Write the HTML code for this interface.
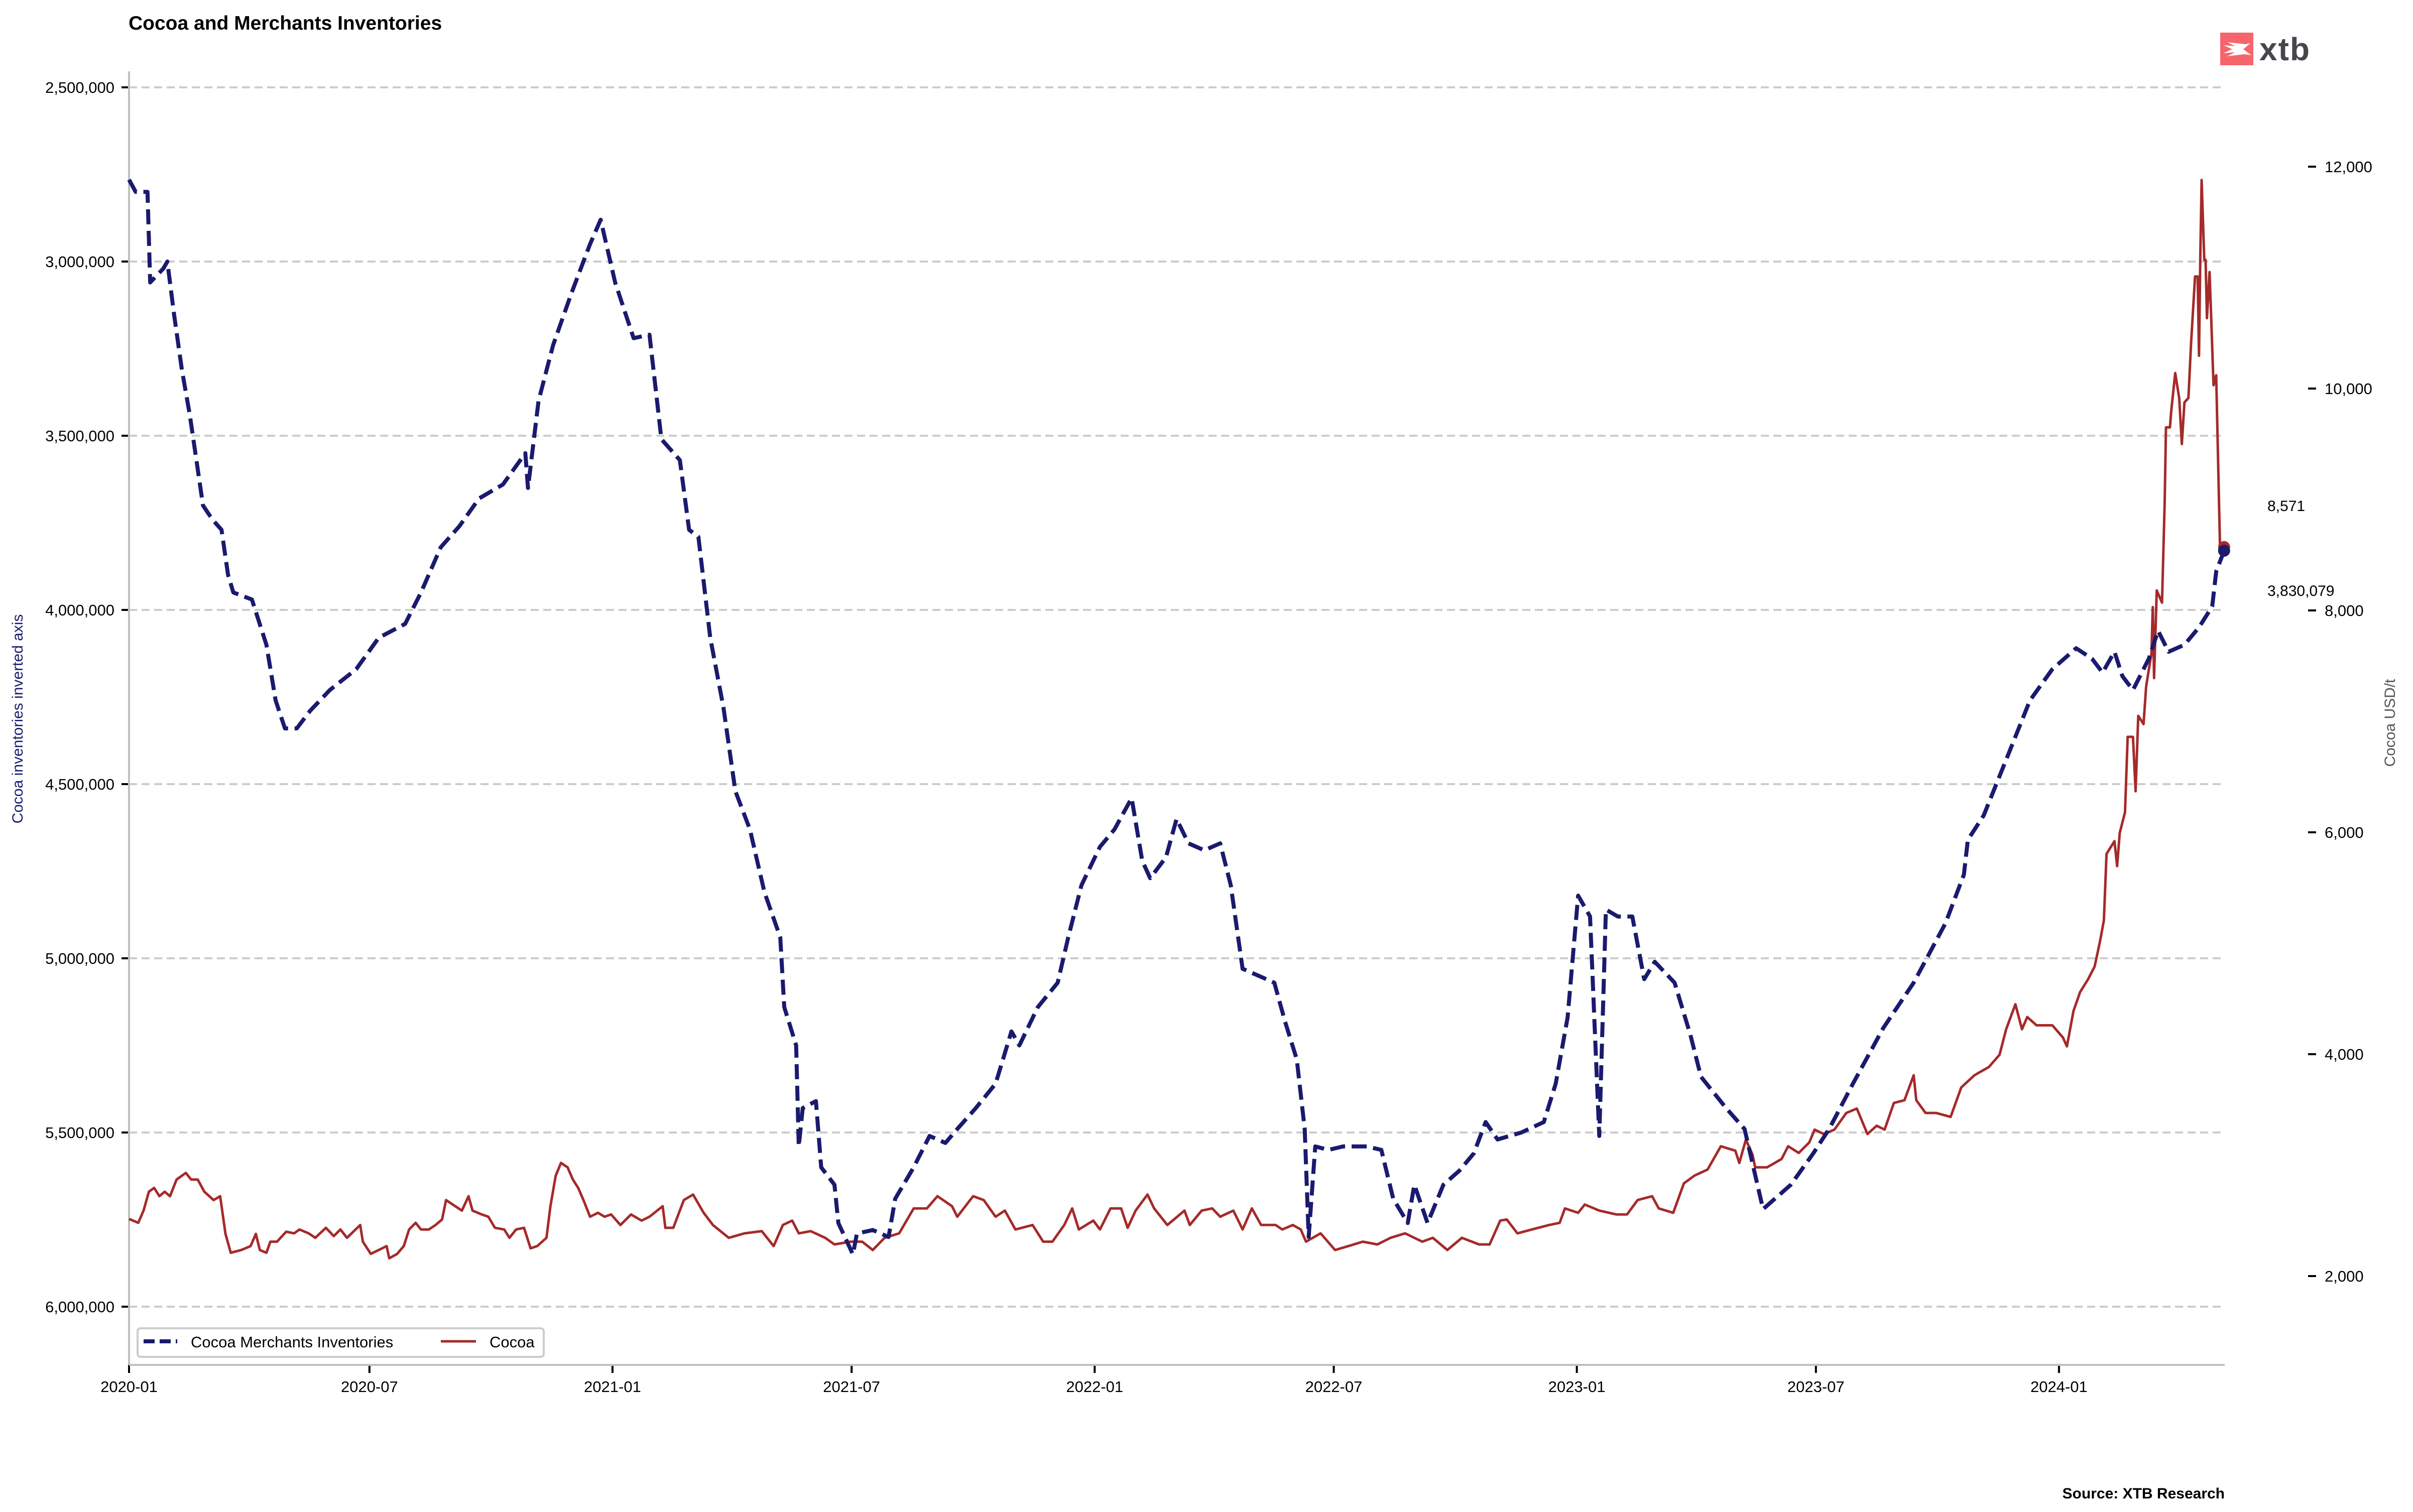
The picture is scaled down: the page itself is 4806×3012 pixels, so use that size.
<!DOCTYPE html>
<html><head><meta charset="utf-8"><style>
html,body{margin:0;padding:0;background:#fff}
svg{display:block;font-family:"Liberation Sans",Arial,sans-serif}
</style></head><body>
<svg id="chart" width="4806" height="3012" viewBox="0 0 4806 3012" xmlns="http://www.w3.org/2000/svg">
<text x="256" y="59" font-size="39" font-weight="bold" fill="#000">Cocoa and Merchants Inventories</text>
<g>
<rect x="4422" y="65" width="66" height="65" fill="#f5656b"/>
<path d="M4428 90 L4452 92 L4436 84 L4472 88 L4482 86 L4468 98 L4484 110 L4470 108 L4436 112 L4452 104 L4428 106 L4446 98 Z" fill="#fff"/>
<text x="4500" y="120" font-size="64" font-weight="bold" fill="#46474c" letter-spacing="2">xtb</text>
</g>
<g id="grid"></g>
<g id="axes"></g>
<g id="series"></g>
<text x="45" y="1432" font-size="30" fill="#1a1a6e" text-anchor="middle" transform="rotate(-90 45 1432)">Cocoa inventories inverted axis</text>
<text x="4770" y="1440" font-size="30" fill="#555" text-anchor="middle" transform="rotate(-90 4770 1440)">Cocoa USD/t</text>
<text x="4516" y="1018" font-size="30" fill="#000">8,571</text>
<text x="4516" y="1187" font-size="30" fill="#000">3,830,079</text>
<g>
<rect x="274" y="2646" width="809" height="57" rx="6" fill="#fff" stroke="#ccc" stroke-width="4"/>
<line x1="286" y1="2672" x2="353" y2="2672" stroke="#1a1a6e" stroke-width="8" stroke-dasharray="22,10"/>
<text x="380" y="2684" font-size="31" fill="#000">Cocoa Merchants Inventories</text>
<line x1="878" y1="2672" x2="948" y2="2672" stroke="#a52a2a" stroke-width="5"/>
<text x="975" y="2684" font-size="31" fill="#000">Cocoa</text>
</g>
<text x="4431" y="2985" font-size="30" font-weight="bold" fill="#000" text-anchor="end">Source: XTB Research</text>
</svg>
<script>
const invDays = [0,5,14,16,26,29,34,40,46,51,56,63,70,75,79,93,104,111,118,127,137,152,172,189,209,221,236,250,265,283,300,302,310,321,335,349,357,368,382,394,403,417,424,431,440,450,459,470,481,493,496,505,507,510,520,524,534,537,548,551,563,575,580,594,606,618,627,641,656,668,674,688,703,711,721,735,746,759,767,773,785,793,802,814,826,834,843,855,867,875,884,890,893,898,908,919,937,948,957,968,973,983,995,1007,1018,1027,1036,1054,1071,1080,1089,1097,1106,1113,1118,1127,1138,1147,1155,1170,1182,1190,1209,1223,1237,1258,1275,1287,1305,1328,1351,1375,1389,1392,1404,1421,1439,1456,1474,1486,1494,1503,1509,1517,1529,1536,1544,1556,1567,1577,1580,1586];
const invValues = [2765000,2800000,2800000,3060000,3020000,3000000,3150000,3310000,3440000,3570000,3700000,3740000,3770000,3900000,3950000,3970000,4100000,4260000,4340000,4340000,4290000,4230000,4170000,4080000,4040000,3950000,3820000,3760000,3680000,3640000,3550000,3650000,3400000,3240000,3090000,2950000,2880000,3060000,3220000,3210000,3510000,3570000,3770000,3790000,4080000,4280000,4520000,4630000,4810000,4940000,5140000,5250000,5540000,5430000,5410000,5600000,5650000,5760000,5850000,5790000,5780000,5800000,5690000,5600000,5510000,5530000,5490000,5430000,5360000,5210000,5250000,5140000,5070000,4940000,4790000,4680000,4630000,4540000,4720000,4770000,4710000,4600000,4670000,4690000,4670000,4790000,5030000,5050000,5070000,5180000,5290000,5490000,5800000,5540000,5550000,5540000,5540000,5550000,5690000,5760000,5650000,5760000,5650000,5610000,5560000,5470000,5520000,5500000,5470000,5360000,5170000,4820000,4880000,5510000,4860000,4880000,4880000,5060000,5010000,5070000,5220000,5340000,5430000,5490000,5720000,5650000,5560000,5490000,5360000,5200000,5070000,4900000,4760000,4660000,4590000,4430000,4260000,4170000,4110000,4140000,4180000,4120000,4190000,4230000,4140000,4060000,4120000,4100000,4050000,3990000,3890000,3830079];
const cocoaDays = [0,7,11,15,19,23,27,31,36,43,47,52,57,64,69,73,77,85,92,96,99,104,107,112,119,125,129,136,141,149,155,160,165,175,177,183,189,195,197,203,208,212,217,221,227,232,237,240,245,252,257,260,267,272,277,284,288,293,299,304,309,316,319,323,327,332,336,340,344,349,355,360,365,372,380,388,394,404,406,412,420,427,435,442,454,466,479,488,495,502,507,516,527,534,546,555,563,572,583,594,604,612,623,627,639,647,656,663,671,684,692,699,708,714,719,730,735,743,751,756,762,771,776,786,799,803,812,820,826,836,843,850,857,868,873,881,887,891,902,913,923,934,945,955,966,979,987,998,1009,1022,1030,1038,1043,1051,1062,1075,1083,1087,1097,1102,1113,1126,1134,1142,1153,1158,1169,1177,1185,1195,1205,1216,1219,1224,1229,1231,1240,1251,1256,1264,1272,1276,1283,1291,1300,1308,1316,1323,1329,1336,1344,1351,1353,1360,1368,1379,1387,1397,1408,1416,1421,1428,1433,1437,1444,1456,1464,1467,1472,1477,1483,1488,1492,1495,1497,1503,1505,1507,1511,1513,1517,1519,1521,1525,1527,1531,1532,1533,1535,1539,1541,1542,1545,1546,1549,1552,1554,1556,1559,1561,1564,1566,1567,1568,1569,1571,1572,1573,1575,1576,1578,1580,1583,1586];
const cocoaValues = [2515,2480,2590,2760,2795,2720,2760,2720,2870,2930,2870,2870,2760,2685,2720,2380,2210,2235,2270,2380,2235,2210,2310,2310,2400,2385,2420,2385,2345,2435,2360,2420,2345,2460,2310,2200,2235,2270,2160,2200,2270,2420,2480,2420,2420,2460,2510,2685,2645,2590,2720,2590,2555,2535,2435,2420,2345,2420,2435,2250,2270,2345,2630,2905,3020,2980,2870,2795,2685,2535,2570,2535,2555,2460,2555,2500,2535,2630,2435,2435,2685,2735,2570,2460,2345,2385,2405,2270,2460,2500,2385,2405,2345,2285,2310,2310,2235,2345,2385,2610,2610,2720,2630,2535,2720,2685,2535,2590,2420,2460,2310,2310,2460,2610,2420,2500,2420,2610,2610,2435,2590,2735,2610,2460,2590,2460,2590,2610,2535,2590,2420,2610,2460,2460,2420,2460,2420,2310,2385,2235,2270,2310,2285,2345,2385,2310,2345,2235,2345,2285,2285,2500,2510,2385,2420,2460,2480,2610,2570,2645,2590,2555,2555,2685,2720,2610,2570,2835,2905,2960,3170,3130,3020,3230,3095,2980,2980,3055,3170,3110,3205,3320,3280,3320,3470,3510,3280,3355,3320,3560,3585,3810,3585,3470,3470,3435,3700,3810,3885,3995,4225,4450,4225,4335,4260,4260,4150,4070,4390,4560,4675,4790,5015,5205,5805,5920,5695,5995,6180,6860,6860,6370,7050,6975,7315,7615,8030,7390,8180,8070,8970,9650,9650,9800,10140,9915,9500,9875,9915,10410,11010,11010,10295,11200,11880,11160,11160,10635,11050,10710,10030,10120,8520,8571];
const leftTicks = [2500000,3000000,3500000,4000000,4500000,5000000,5500000,6000000];
const rightTicks = [2000,4000,6000,8000,10000,12000];
const xTickLabels = ["2020-01","2020-07","2021-01","2021-07","2022-01","2022-07","2023-01","2023-07","2024-01"];

const NS="http://www.w3.org/2000/svg";
const L=257,R=4431,T=142,B=2719;
const day0=Date.UTC(2020,0,1);
function xs(d){return L+d*2.631;}
function yl(v){return 174+(v-2500000)/1000000*694;}
function yr(v){return 332+(12000-v)*0.221;}
function fmt(v){return v.toLocaleString('en-US');}
function mk(tag,attrs,parent){const e=document.createElementNS(NS,tag);for(const k in attrs)e.setAttribute(k,attrs[k]);parent.appendChild(e);return e;}
const grid=document.getElementById('grid'),axes=document.getElementById('axes'),series=document.getElementById('series');

leftTicks.forEach(v=>{
  const y=yl(v);
  const g=mk('line',{x1:L,x2:R,y1:y,y2:y,stroke:'#cccccc','stroke-width':4,'stroke-dasharray':'16,9'},grid);
  
  
  const t=mk('line',{x1:242,x2:256,y1:y,y2:y,stroke:'#000','stroke-width':4},axes);
  
  
  const lb=mk('text',{x:228,y:y+11,'font-size':31,'text-anchor':'end',fill:'#000'},axes);
  lb.textContent=fmt(v);
  
  
});
rightTicks.forEach(v=>{
  const y=yr(v);
  const t=mk('line',{x1:4597,x2:4613,y1:y,y2:y,stroke:'#000','stroke-width':4},axes);
  
  
  const lb=mk('text',{x:4630,y:y+11,'font-size':31,fill:'#000'},axes);
  lb.textContent=fmt(v);
  
  
});
xTickLabels.forEach(s=>{
  const [yy,mm]=s.split('-').map(Number);
  const d=(Date.UTC(yy,mm-1,1)-day0)/86400000;
  const x=xs(d);
  const t=mk('line',{x1:x,x2:x,y1:B,y2:B+16,stroke:'#000','stroke-width':4},axes);
  
  
  const lb=mk('text',{x:x,y:2773,'font-size':31,'text-anchor':'middle',fill:'#000'},axes);
  lb.textContent=s;
  
  
});
const sp1=mk('line',{x1:L,x2:L,y1:T,y2:B,stroke:'#c0c0c0','stroke-width':4},axes);


const sp2=mk('line',{x1:L,x2:R,y1:B,y2:B,stroke:'#c0c0c0','stroke-width':4},axes);



const cp=cocoaDays.map((d,i)=>xs(d).toFixed(1)+','+yr(cocoaValues[i]).toFixed(1)).join(' ');
const cl=mk('polyline',{points:cp,fill:'none',stroke:'#a52a2a','stroke-width':5,'stroke-linejoin':'round'},series);


const ip=invDays.map((d,i)=>xs(d).toFixed(1)+','+yl(invValues[i]).toFixed(1)).join(' ');
const il=mk('polyline',{points:ip,fill:'none',stroke:'#1a1a6e','stroke-width':8,'stroke-dasharray':'30,13','stroke-linejoin':'round'},series);


const nc=cocoaDays.length-1,ni=invDays.length-1;
const c1=mk('circle',{cx:xs(cocoaDays[nc]),cy:yr(cocoaValues[nc]),r:12,fill:'#a52a2a'},series);


const c2=mk('circle',{cx:xs(invDays[ni]),cy:yl(invValues[ni]),r:12,fill:'#1a1a6e'},series);


</script>
</body></html>
